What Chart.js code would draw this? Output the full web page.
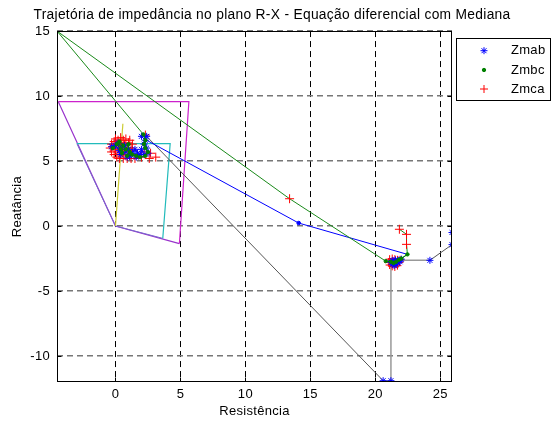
<!DOCTYPE html>
<html><head><meta charset="utf-8">
<script src="https://cdn.jsdelivr.net/npm/chart.js@4.4.0/dist/chart.umd.min.js"></script>
<style>html,body{margin:0;padding:0;background:#fff;}#wrap{width:557px;height:421px;}</style>
</head><body><div id="wrap"><canvas id="c" width="557" height="421"></canvas></div>
<script>
// ---- axis / labels ----
const xTicks = [0, 5, 10, 15, 20, 25];
const yTicks = [-10, -5, 0, 5, 10, 15];
const xRange = [-4.5, 25.9];
const yRange = [-12, 15];
const titleText = 'Trajetória de impedância no plano R-X - Equação diferencial com Mediana';
const xTitle = 'Resistência';
const yTitle = 'Reatância';
const seriesNames = ['Zmab', 'Zmbc', 'Zmca'];

// ---- relay characteristic polygons ----
const magentaTopRight = [[-4.4, 9.57], [5.65, 9.57], [4.92, -1.35]];
const magentaLeftBottom = [[-4.4, 9.57], [0, 0], [4.92, -1.35]];
const cyanTopRight = [[-2.97, 6.34], [4.21, 6.34], [3.64, -0.95]];
const cyanLeftBottom = [[-2.97, 6.34], [0, 0], [3.64, -0.95]];
const yellowLine = [[0, 0], [0.57, 7.87]];

// ---- trajectory lines ----
const bluePath = [[2.4, 6.6], [14.1, 0.23], [22.47, -2.18]];
const darkGrayPath = [[2.3, 7.0], [20.6, -11.9]];
const lightGrayPath = [[20.6, -11.9], [21.2, -11.9], [21.2, -2.64], [24.2, -2.64]];
const grayPath2 = [[24.2, -2.64], [25.9, -1.43]];
const greenPath = [[2.15, 7.05], [-4.5, 15], [13.4, 2.1], [20.8, -2.7]];
const greenPath2 = [[22.0, -2.5], [22.47, -2.18], [22.4, -1.41], [22.4, -0.64], [21.85, -0.25]];

// ---- Zmab (blue *) ----
const zmabCluster1 = [[-0.3, 6.1], [0.0, 6.2], [0.3, 5.8], [0.2, 6.4], [0.5, 6.0], [0.4, 5.5], [0.8, 5.7], [0.7, 6.2], [1.0, 5.9], [1.1, 5.4], [0.9, 5.3], [1.3, 5.6], [1.5, 5.9], [1.7, 5.6], [1.6, 5.3], [1.9, 5.5], [2.0, 5.9], [2.2, 5.5], [2.5, 5.6], [2.4, 6.0], [2.2, 6.3], [2.3, 6.6], [2.0, 6.9], [2.4, 6.9]];
const zmabCluster2 = [[21.2, -2.8], [21.35, -2.95], [21.5, -2.7], [21.45, -3.05], [21.6, -2.95], [21.7, -2.8], [21.8, -2.65], [21.55, -2.6], [21.9, -2.75], [22.0, -2.55], [21.3, -2.65]];
const zmabOutliers = [[20.6, -11.9], [21.2, -11.9], [24.2, -2.64], [25.9, -1.43], [25.9, -0.5]];
const blueDots = [[14.1, 0.23]];

// ---- Zmbc (green .) ----
const zmbcCluster1 = [[-0.2, 6.0], [0.1, 6.3], [0.4, 5.9], [0.3, 6.5], [0.6, 6.2], [0.5, 5.6], [0.8, 5.9], [1.0, 6.3], [1.1, 5.7], [0.9, 5.4], [1.3, 5.5], [1.6, 5.4], [1.9, 5.3], [2.3, 5.4], [2.5, 5.7], [2.3, 6.0], [2.2, 6.3], [2.3, 6.6], [2.15, 7.05]];
const zmbcCluster2 = [[20.8, -2.7], [21.2, -2.75], [21.4, -2.85], [21.6, -2.75], [21.8, -2.6], [22.0, -2.5], [22.47, -2.18]];

// ---- Zmca (red +) ----
const zmcaCluster1 = [[-0.4, 6.0], [-0.3, 6.3], [-0.3, 5.7], [-0.1, 6.5], [-0.1, 5.5], [-0.2, 6.1], [0.0, 6.7], [0.0, 5.9], [0.1, 5.3], [0.1, 6.3], [0.2, 6.6], [0.2, 5.7], [0.3, 6.0], [0.3, 5.2], [0.4, 6.8], [0.4, 6.4], [0.5, 5.5], [0.5, 6.1], [0.6, 5.2], [0.6, 6.6], [0.7, 5.8], [0.7, 6.3], [0.8, 5.4], [0.8, 6.7], [0.9, 6.0], [0.9, 5.2], [1.0, 5.7], [1.0, 6.4], [1.1, 6.6], [1.1, 5.4], [1.2, 6.0], [1.2, 5.2], [1.3, 5.8], [1.3, 6.3], [1.5, 5.2], [1.7, 5.5], [2.0, 5.3], [2.2, 5.7], [2.7, 5.6], [3.1, 5.3], [2.3, 7.0], [2.6, 5.2]];
const zmcaCluster2 = [[21.0, -2.8], [21.1, -2.55], [21.1, -3.0], [21.3, -2.5], [21.3, -3.1], [21.5, -2.55], [21.5, -3.15], [21.7, -2.6], [21.7, -3.05], [21.85, -2.8], [21.9, -2.6], [21.4, -2.8], [21.6, -2.85]];
const zmcaOutliers = [[-4.5, 15], [13.4, 2.1], [21.85, -0.25], [22.4, -0.64], [22.4, -1.41]];

const FONT = "'Liberation Sans', Arial, sans-serif";
const P = a => a.map(([x, y]) => ({x, y}));
function lineDs(data, color, width, order) {
  return {data: P(data), showLine: true, borderColor: color, borderWidth: width || 1, pointRadius: 0, fill: false, order: order || 8};
}
function markDs(data, style, color, radius, lineColor, order) {
  return {data: P(data), showLine: !!lineColor, borderColor: lineColor || color, borderWidth: 1,
    pointStyle: style, pointRadius: radius, pointBorderColor: color, pointBackgroundColor: color,
    pointBorderWidth: 1, fill: false, order: order || 2};
}
const BLUE = '#0000ff', GREEN = '#008000', RED = '#ff0000';

const datasets = [
  lineDs(magentaTopRight, '#cc22cc', 1.2, 20),
  lineDs(magentaLeftBottom, '#9933cc', 1.2, 20),
  lineDs(cyanTopRight, '#22bbbb', 1.2, 19),
  lineDs(cyanLeftBottom, '#7766cc', 1, 19),
  lineDs(yellowLine, '#cccc33', 1.2, 18),
  lineDs(darkGrayPath, '#555555', 1, 10),
  lineDs(lightGrayPath, '#999999', 1.5, 10),
  lineDs(grayPath2, '#555555', 1, 10),
  lineDs(greenPath, '#1a8a1a', 1, 9),
  lineDs(greenPath2, '#1a8a1a', 1, 9),
  markDs(bluePath, 'circle', BLUE, 0, BLUE, 9),
  markDs(blueDots, 'circle', BLUE, 1.8, null, 3),
  markDs(zmcaCluster1, 'cross', RED, 4.5, null, 4),
  markDs(zmcaCluster2, 'cross', RED, 4, null, 4),
  markDs(zmcaOutliers, 'cross', RED, 4.5, null, 4),
  markDs(zmabCluster1, 'star', BLUE, 3.5, BLUE, 3),
  markDs(zmabCluster2, 'star', BLUE, 3.5, BLUE, 3),
  markDs(zmabOutliers, 'star', BLUE, 3.5, null, 3),
  markDs(zmbcCluster1, 'circle', GREEN, 1.7, GREEN, 2),
  markDs(zmbcCluster2, 'circle', GREEN, 1.7, GREEN, 2)
];

const spacing = {
  id: 'spacing',
  beforeDraw(chart) { chart.ctx.letterSpacing = '0.3px'; }
};

const frame = {
  id: 'frame',
  afterDatasetsDraw(chart) {
    const {ctx, chartArea: a, scales: {x, y}} = chart;
    ctx.save();
    ctx.setLineDash([]);
    ctx.strokeStyle = '#000'; ctx.lineWidth = 1;
    const L = Math.round(a.left) + 0.5, R = Math.round(a.right) - 0.5, T = Math.round(a.top) + 0.5, B = Math.round(a.bottom) - 0.5;
    ctx.strokeRect(L, T, R - L, B - T);
    ctx.beginPath();
    xTicks.forEach(v => { const px = Math.round(x.getPixelForValue(v)) + 0.5; ctx.moveTo(px, B); ctx.lineTo(px, B - 4); ctx.moveTo(px, T); ctx.lineTo(px, T + 4); });
    yTicks.forEach(v => { const py = Math.round(y.getPixelForValue(v)) + 0.5; ctx.moveTo(L, py); ctx.lineTo(L + 4, py); ctx.moveTo(R, py); ctx.lineTo(R - 4, py); });
    ctx.stroke();
    // legend
    const lx = 456.5, ly = 38.5, lw = 94, lh = 62;
    ctx.fillStyle = '#fff'; ctx.fillRect(lx, ly, lw, lh);
    ctx.strokeRect(lx, ly, lw, lh);
    const rows = [50.7, 70, 89];
    const styles = [['star', BLUE, 3.5], ['circle', GREEN, 1.7], ['cross', RED, 4]];
    rows.forEach((ry, i) => {
      const [st, col, r] = styles[i];
      ctx.strokeStyle = col; ctx.fillStyle = col; ctx.lineWidth = 1;
      Chart.helpers.drawPoint(ctx, {pointStyle: st, radius: r, borderWidth: 1}, 484, ry);
      ctx.fillStyle = '#000'; ctx.font = '13px ' + FONT; ctx.textBaseline = 'middle'; ctx.textAlign = 'left';
      ctx.fillText(seriesNames[i], 511, ry);
    });
    ctx.restore();
  }
};

new Chart(document.getElementById('c'), {
  type: 'scatter',
  data: {datasets},
  options: {
    responsive: false, animation: false, events: [],
    layout: {padding: {top: 0, right: 13, left: 0, bottom: 0}},
    plugins: {
      legend: {display: false}, tooltip: {enabled: false},
      title: {display: true, text: titleText, color: '#000', font: {family: FONT, size: 13.8, weight: 'normal'}, padding: {top: 7, bottom: 7.5}}
    },
    scales: {
      x: {type: 'linear', min: xRange[0], max: xRange[1],
        afterBuildTicks: s => { s.ticks = xTicks.map(v => ({value: v})); },
        afterFit: s => { s.height = 39; },
        grid: {color: '#000', lineWidth: 1, drawTicks: false},
        border: {display: false, dash: [6, 4]},
        ticks: {color: '#000', padding: 5, font: {family: FONT, size: 13}, maxRotation: 0, autoSkip: false},
        title: {display: true, text: xTitle, color: '#000', font: {family: FONT, size: 13}, padding: {top: 0, bottom: 2}}
      },
      y: {type: 'linear', min: yRange[0], max: yRange[1],
        afterBuildTicks: s => { s.ticks = yTicks.map(v => ({value: v})); },
        afterFit: s => { s.width = 57; },
        grid: {color: '#777', lineWidth: 1.5, drawTicks: false},
        border: {display: false, dash: [6, 4]},
        ticks: {color: '#000', padding: 7, font: {family: FONT, size: 13}, autoSkip: false},
        title: {display: true, text: yTitle, color: '#000', font: {family: FONT, size: 13}, padding: {top: 10, bottom: 0}}
      },
      y2: {type: 'linear', position: 'right', display: true, min: 0, max: 1,
        afterFit: s => { s.width = 92; },
        grid: {display: false, drawTicks: false}, border: {display: false}, ticks: {display: false}}
    }
  },
  plugins: [spacing, frame]
});
</script></body></html>
